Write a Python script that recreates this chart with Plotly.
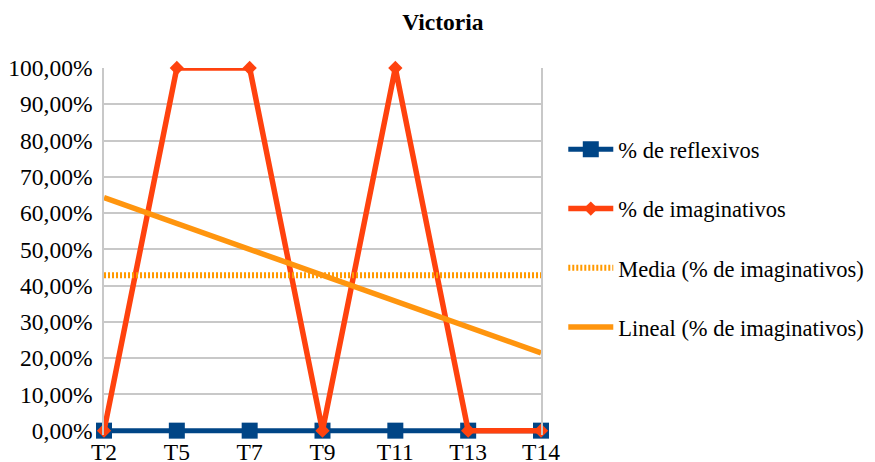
import plotly.graph_objects as go

categories = ["T2", "T5", "T7", "T9", "T11", "T13", "T14"]
reflexivos = [0, 0, 0, 0, 0, 0, 0]
imaginativos = [0, 1, 1, 0, 1, 0, 0]
media_value = 0.4286
trend_start = 0.6429
trend_end = 0.2143
y_ticks = [0, 0.1, 0.2, 0.3, 0.4, 0.5, 0.6, 0.7, 0.8, 0.9, 1.0]

FONT = "Liberation Serif"
FS = 23.5
LFS = 22.5
grid = "#c8c8c8"

fig = go.Figure()
fig.add_trace(go.Scatter(
    x=categories, y=reflexivos, name="% de reflexivos", mode="lines+markers",
    line=dict(color="#004586", width=5),
    marker=dict(symbol="square", size=16, color="#004586"),
    legendgroup="a", cliponaxis=False))
fig.add_trace(go.Scatter(
    x=categories, y=imaginativos, name="% de imaginativos", mode="lines+markers",
    line=dict(color="#ff420e", width=5.5),
    marker=dict(symbol="diamond", size=11, color="#ff420e"),
    legendgroup="b", cliponaxis=False))
fig.add_trace(go.Scatter(
    x=categories, y=[media_value] * len(categories), name="Media (% de imaginativos)",
    mode="lines", line=dict(color="#ff9900", width=6, dash="2px,2px"),
    legendgroup="c", cliponaxis=False))
fig.add_trace(go.Scatter(
    x=[categories[0], categories[-1]], y=[trend_start, trend_end],
    name="Lineal (% de imaginativos)", mode="lines",
    line=dict(color="#ff950e", width=5.5),
    legendgroup="d", cliponaxis=False))

fig.update_layout(
    width=875, height=462,
    paper_bgcolor="white", plot_bgcolor="white",
    separators=",.",
    margin=dict(l=96, r=342, t=60, b=35, autoexpand=False),
    title=dict(text="<b>Victoria</b>", x=0.497, xanchor="center", xref="container",
               y=0.97, yanchor="middle", yref="container", automargin=False,
               font=dict(family=FONT, size=FS, color="black")),
    font=dict(family=FONT, size=FS, color="black"),
    legend=dict(x=1.051, xanchor="left", y=0.836, yanchor="top",
                traceorder="grouped", tracegroupgap=27, itemwidth=45,
                font=dict(family=FONT, size=LFS, color="black")),
    showlegend=True,
)
fig.update_xaxes(
    type="category", range=[0, len(categories) - 1], automargin=False,
    showgrid=False, showline=False, zeroline=False,
    ticks="", ticklabelstandoff=0,
    tickfont=dict(family=FONT, size=FS, color="black"),
)
fig.update_yaxes(
    range=[-0.012, 1], tickvals=y_ticks, tickformat=".2%", automargin=False,
    showgrid=True, gridcolor=grid, gridwidth=1.5,
    showline=True, linecolor=grid, linewidth=1.5, mirror=True,
    zeroline=False, ticks="", ticklen=0, ticklabelstandoff=5,
    tickfont=dict(family=FONT, size=FS, color="black"),
)
fig.write_html("out.html")
